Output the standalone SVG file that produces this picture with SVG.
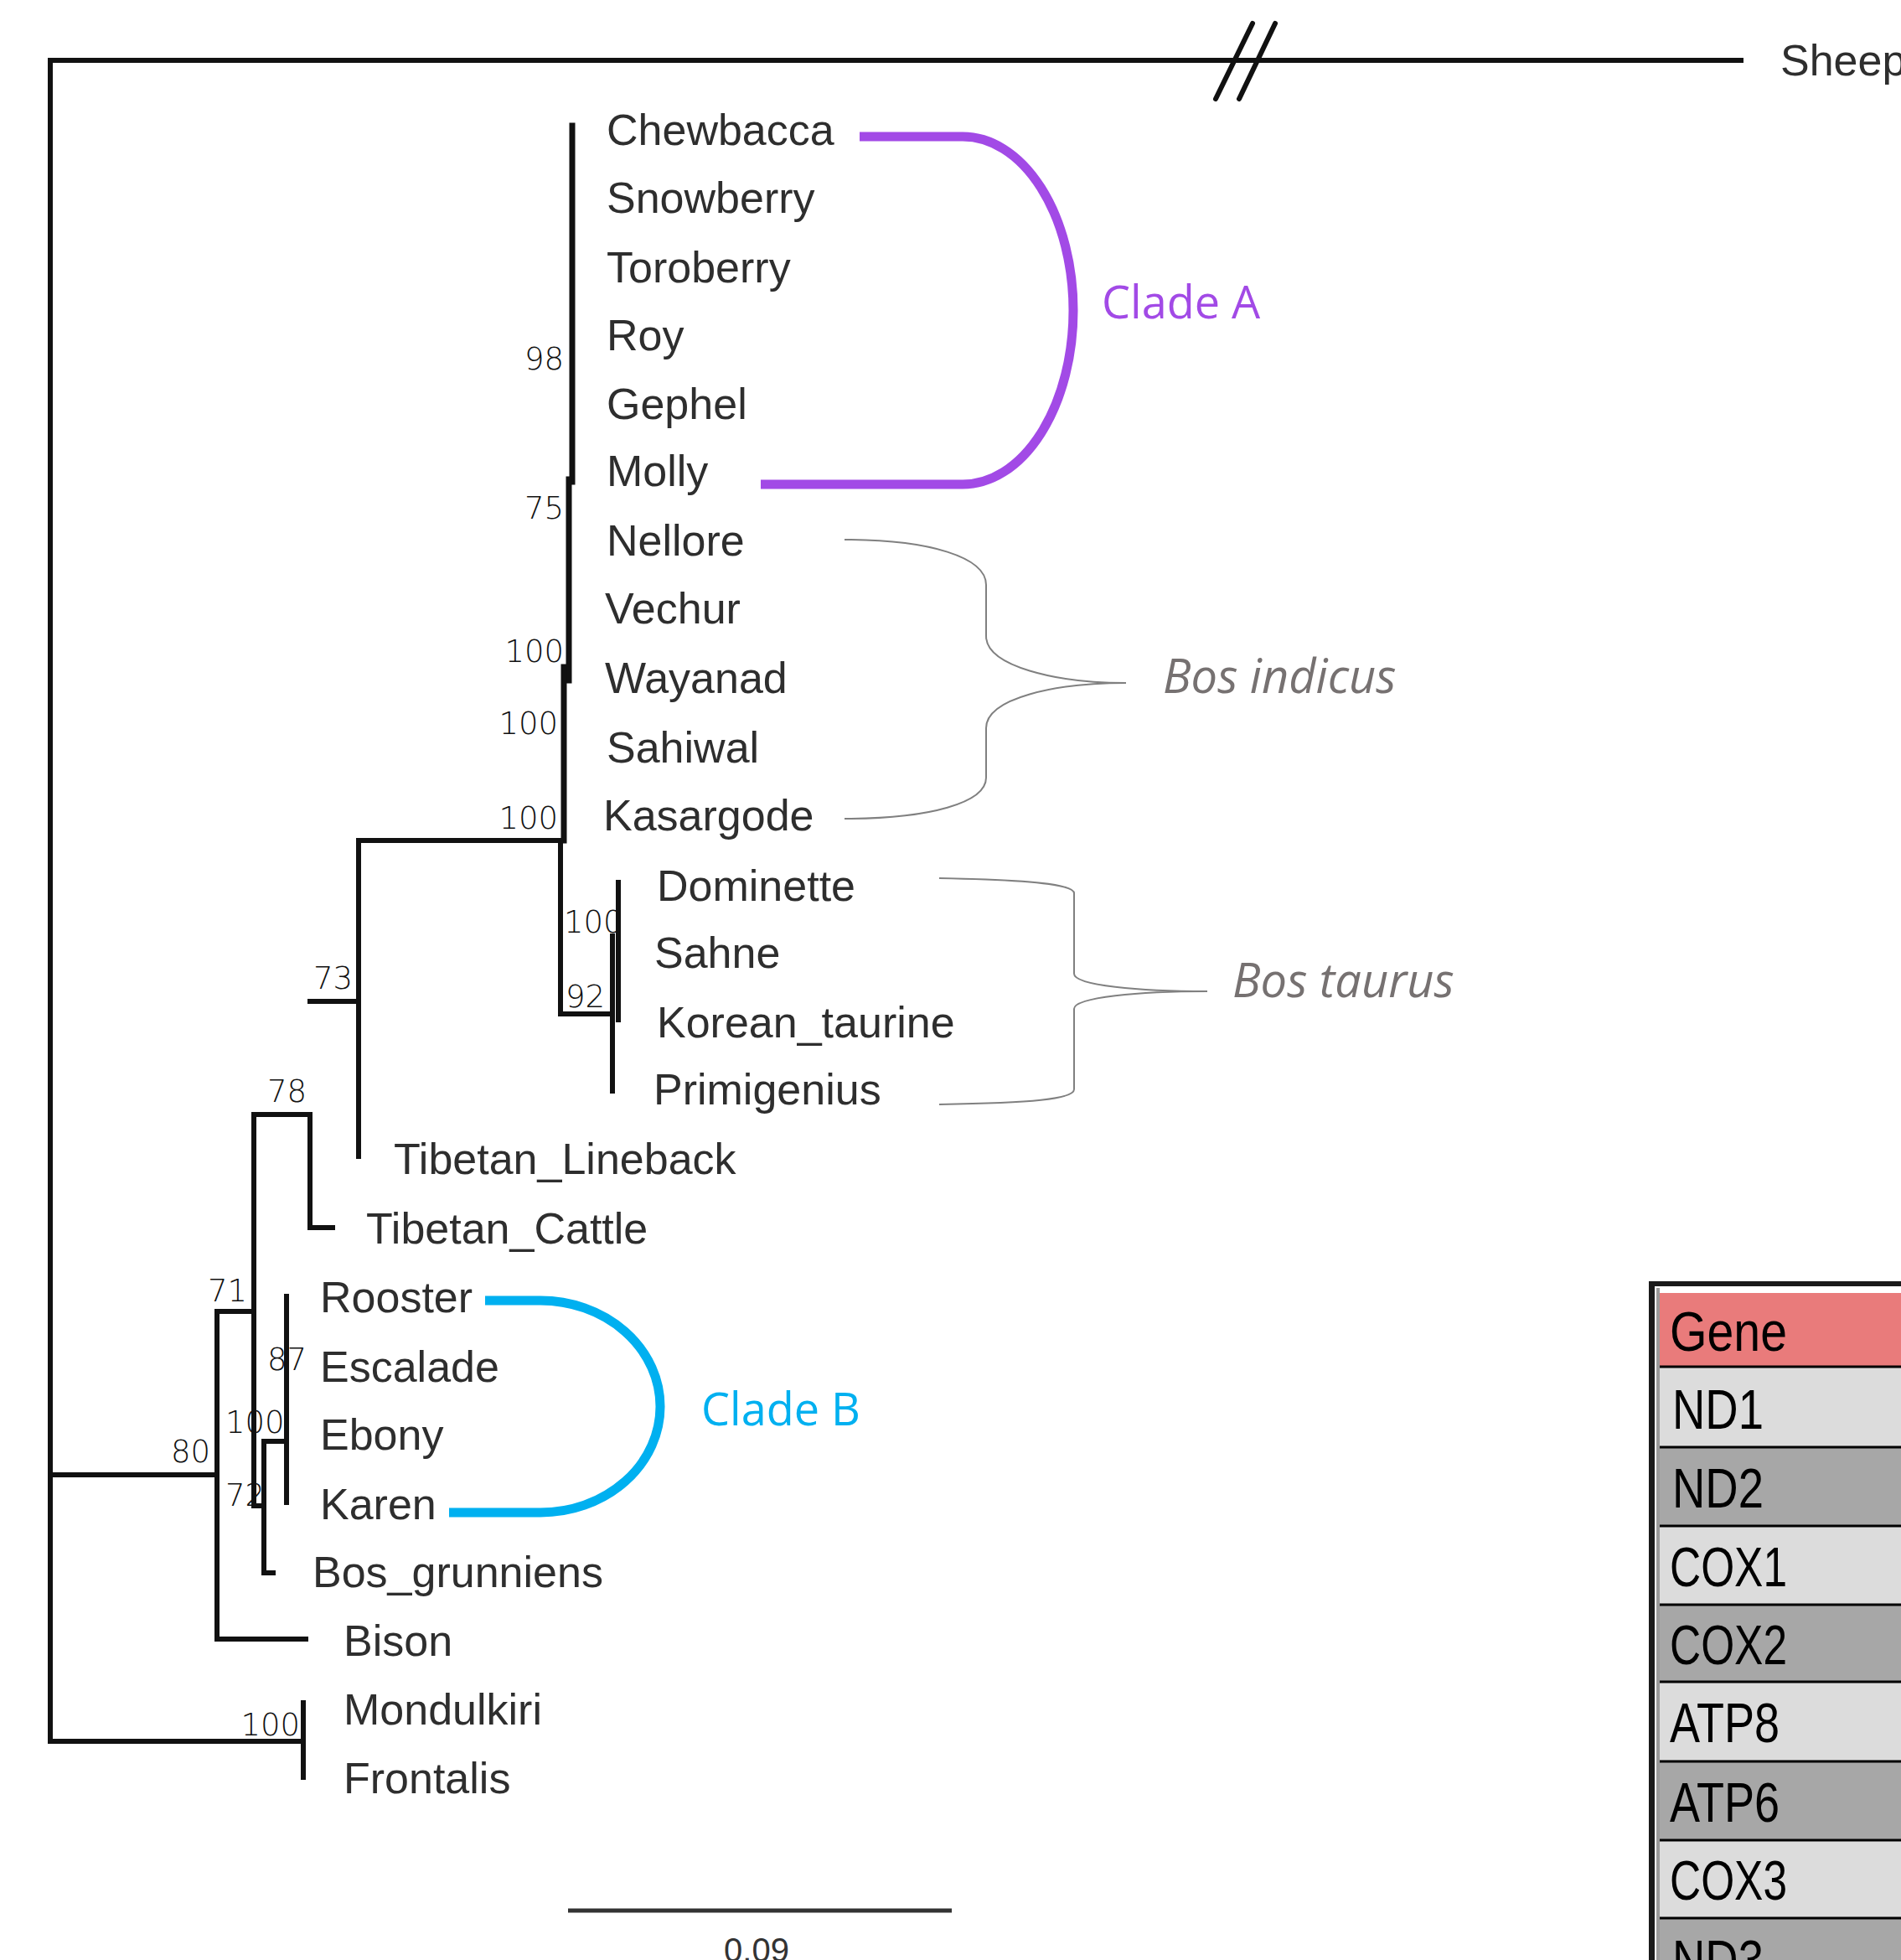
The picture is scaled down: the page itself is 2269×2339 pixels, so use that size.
<svg xmlns="http://www.w3.org/2000/svg" width="2269" height="2339" viewBox="0 0 2269 2339">
<style>
.br{stroke:#111;stroke-width:6;fill:none;stroke-linecap:square}
.lab{font-family:"Liberation Sans",Arial,sans-serif;font-size:52px;fill:#2e2e2e}
.bs{font-family:"DejaVu Sans",sans-serif;font-weight:200;font-size:37px;fill:#111}
.brace{stroke:#808080;stroke-width:2;fill:none}
.sp{font-family:"Open Sans",sans-serif;font-style:italic;font-size:56px;fill:#767171}
.clade{font-family:"Open Sans",sans-serif;font-size:54px}
.tb{font-family:"Liberation Sans",sans-serif;font-size:66px;fill:#000}
.sep{stroke:#000;stroke-width:3}
</style>
<rect width="2269" height="2339" fill="#fff"/>

<g id="connectors" class="br">
  <path d="M2078,72 H60 V2078 H362"/>
  <path d="M60,1760 H259"/>
  <path d="M362,2032 V2121"/>
  <path d="M259,1565 V1956 H365"/>
  <path d="M259,1565 H303"/>
  <path d="M303,1330 V1797 H315"/>
  <path d="M303,1330 H370 V1465 H397"/>
  <path d="M370,1195 H428"/>
  <path d="M428,1003 V1380"/>
  <path d="M428,1003 H669 V1210 H731"/>
  <path d="M315,1720 V1877 H326"/>
  <path d="M315,1720 H342"/>
  <path d="M342,1547 V1793"/>
  <path d="M731,1117 V1302"/>
  <path d="M738,1053 V1217"/>
  <path d="M683,150 V575" stroke-width="7"/>
  <path d="M679,572 V812" stroke-width="7"/>
  <path d="M673,796 V1003" stroke-width="7"/>
  <path d="M1451,118 L1495,28" stroke-linecap="round"/>
  <path d="M1479,118 L1522,28" stroke-linecap="round"/>
</g>

<g id="supports" class="bs">
  <text x="673" y="441" text-anchor="end">98</text>
  <text x="673" y="619" text-anchor="end">75</text>
  <text x="673" y="790" text-anchor="end">100</text>
  <text x="666" y="876" text-anchor="end">100</text>
  <text x="666" y="989" text-anchor="end">100</text>
  <text x="673" y="1113">100</text>
  <text x="675" y="1202">92</text>
  <text x="421" y="1180" text-anchor="end">73</text>
  <text x="366" y="1315" text-anchor="end">78</text>
  <text x="295" y="1553" text-anchor="end">71</text>
  <text x="319" y="1635">87</text>
  <text x="269" y="1710">100</text>
  <text x="251" y="1745" text-anchor="end">80</text>
  <text x="269" y="1797">72</text>
  <text x="358" y="2071" text-anchor="end">100</text>
</g>

<g id="leaves" class="lab">
  <g id="n-sheep"><text x="2125" y="90">Sheep</text></g>
  <g id="n-chewbacca"><text x="724" y="173">Chewbacca</text></g>
  <g id="n-snowberry"><text x="724" y="254">Snowberry</text></g>
  <g id="n-toroberry"><text x="724" y="337">Toroberry</text></g>
  <g id="n-roy"><text x="724" y="418">Roy</text></g>
  <g id="n-gephel"><text x="724" y="500">Gephel</text></g>
  <g id="n-molly"><text x="724" y="580">Molly</text></g>
  <g id="n-nellore"><text x="724" y="663">Nellore</text></g>
  <g id="n-vechur"><text x="722" y="744">Vechur</text></g>
  <g id="n-wayanad"><text x="722" y="827">Wayanad</text></g>
  <g id="n-sahiwal"><text x="724" y="910">Sahiwal</text></g>
  <g id="n-kasargode"><text x="720" y="991">Kasargode</text></g>
  <g id="n-dominette"><text x="784" y="1075">Dominette</text></g>
  <g id="n-sahne"><text x="781" y="1155">Sahne</text></g>
  <g id="n-korean"><text x="784" y="1238">Korean_taurine</text></g>
  <g id="n-primigenius"><text x="780" y="1318">Primigenius</text></g>
  <g id="n-tib-lineback"><text x="470" y="1401">Tibetan_Lineback</text></g>
  <g id="n-tib-cattle"><text x="437" y="1484">Tibetan_Cattle</text></g>
  <g id="n-rooster"><text x="382" y="1566">Rooster</text></g>
  <g id="n-escalade"><text x="382" y="1649">Escalade</text></g>
  <g id="n-ebony"><text x="382" y="1730">Ebony</text></g>
  <g id="n-karen"><text x="382" y="1813">Karen</text></g>
  <g id="n-bos-grunniens"><text x="373" y="1894">Bos_grunniens</text></g>
  <g id="n-bison"><text x="410" y="1976">Bison</text></g>
  <g id="n-mondulkiri"><text x="410" y="2058">Mondulkiri</text></g>
  <g id="n-frontalis"><text x="410" y="2140">Frontalis</text></g>
</g>

<g id="clade-a">
  <path d="M1026,163 H1149 A132,207.5 0 0 1 1149,578 H908" stroke="#A24AE6" stroke-width="11" fill="none"/>
  <text class="clade" x="1315" y="380" fill="#A24AE6">Clade A</text>
</g>
<g id="clade-b">
  <path d="M579,1552 H645 A143,126.5 0 0 1 645,1805 H536" stroke="#00B0F0" stroke-width="11" fill="none"/>
  <text class="clade" x="837" y="1701" fill="#00B0F0">Clade B</text>
</g>
<g id="bos-indicus">
  <path class="brace" d="M1008,644 C1110,644 1177,665 1177,698 L1177,759 C1177,795 1260,815 1344,815 C1260,815 1177,833 1177,869 L1177,928 C1177,958 1110,977 1008,977"/>
  <text class="sp" x="1388" y="827">Bos indicus</text>
</g>
<g id="bos-taurus">
  <path class="brace" d="M1121,1048 C1230,1050 1282,1055 1282,1066 L1282,1162 C1282,1176 1360,1183 1441,1183 C1360,1183 1282,1190 1282,1204 L1282,1300 C1282,1312 1230,1316 1121,1318"/>
  <text class="sp" x="1471" y="1190">Bos taurus</text>
</g>

<g id="scale-bar">
  <path d="M678,2280 H1136" stroke="#333" stroke-width="5"/>
  <text x="903" y="2341" text-anchor="middle" font-family="Liberation Sans, sans-serif" font-size="40" fill="#333">0.09</text>
</g>

<g id="gene-table">
  <rect x="1968" y="1529" width="7" height="810" fill="#1a1a1a"/>
  <rect x="1968" y="1529" width="301" height="6" fill="#1a1a1a"/>
  <rect x="1977" y="1537" width="4" height="802" fill="#9a9a9a"/>
  <rect x="1981" y="1543" width="288" height="88" fill="#E97B7B"/>
  <rect x="1981" y="1631" width="288" height="96" fill="#DCDCDC"/>
  <rect x="1981" y="1727" width="288" height="94" fill="#A7A7A7"/>
  <rect x="1981" y="1821" width="288" height="94" fill="#DCDCDC"/>
  <rect x="1981" y="1915" width="288" height="92" fill="#A7A7A7"/>
  <rect x="1981" y="2007" width="288" height="95" fill="#DCDCDC"/>
  <rect x="1981" y="2102" width="288" height="94" fill="#A7A7A7"/>
  <rect x="1981" y="2196" width="288" height="93" fill="#DCDCDC"/>
  <rect x="1981" y="2289" width="288" height="50" fill="#A7A7A7"/>
  <path class="sep" d="M1981,1631 H2269 M1981,1727 H2269 M1981,1821 H2269 M1981,1915 H2269 M1981,2007 H2269 M1981,2102 H2269 M1981,2196 H2269 M1981,2289 H2269"/>
  <text class="tb" x="1993" y="1612" textLength="140" lengthAdjust="spacingAndGlyphs">Gene</text>
  <text class="tb" x="1996" y="1705" textLength="109" lengthAdjust="spacingAndGlyphs">ND1</text>
  <text class="tb" x="1996" y="1799" textLength="109" lengthAdjust="spacingAndGlyphs">ND2</text>
  <text class="tb" x="1993" y="1893" textLength="140" lengthAdjust="spacingAndGlyphs">COX1</text>
  <text class="tb" x="1993" y="1986" textLength="140" lengthAdjust="spacingAndGlyphs">COX2</text>
  <text class="tb" x="1993" y="2079" textLength="131" lengthAdjust="spacingAndGlyphs">ATP8</text>
  <text class="tb" x="1993" y="2174" textLength="131" lengthAdjust="spacingAndGlyphs">ATP6</text>
  <text class="tb" x="1993" y="2267" textLength="140" lengthAdjust="spacingAndGlyphs">COX3</text>
  <text class="tb" x="1996" y="2362" textLength="109" lengthAdjust="spacingAndGlyphs">ND3</text>
</g>
</svg>
